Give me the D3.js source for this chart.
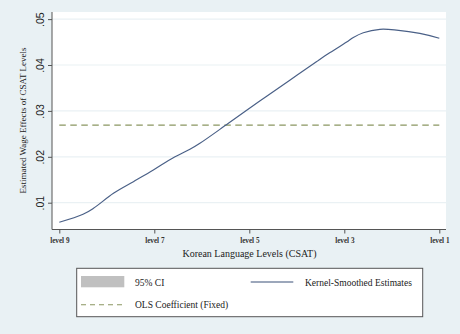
<!DOCTYPE html>
<html>
<head>
<meta charset="utf-8">
<script src="https://cdn.jsdelivr.net/npm/d3@7"></script>
<style>
  html, body { margin: 0; padding: 0; background: #e9f1f4; }
  svg { display: block; }
</style>
</head>
<body>
<svg id="chart" width="460" height="334"></svg>
<script>
// Kernel-smoothed wage effect by Korean language level (CSAT)
const levels = [9, 8.5, 8.28, 7.86, 7.44, 7.02, 6.6, 6.25, 6.04, 5.44, 4.78, 4.14, 3.58, 3.3, 2.95, 2.81, 2.6, 2.25, 1.9, 1.41, 1];
const kernelEstimates = [0.00573, 0.00747, 0.00878, 0.01205, 0.01458, 0.01712, 0.0198, 0.02163, 0.02294, 0.0273, 0.03215, 0.03675, 0.04075, 0.04270, 0.04500, 0.04600, 0.04704, 0.04778, 0.04762, 0.04691, 0.04582];
const olsCoefficient = 0.0269;
const xTickValues = [9, 7, 5, 3, 1];
const xTickLabels = ["level 9", "level 7", "level 5", "level 3", "level 1"];
const yTickValues = [0.01, 0.02, 0.03, 0.04, 0.05];
const yTickLabels = [".01", ".02", ".03", ".04", ".05"];
const legendItems = ["95% CI", "Kernel-Smoothed Estimates", "OLS Coefficient (Fixed)"];

const svg = d3.select("#chart");
const plot = { left: 52, right: 446, top: 12, bottom: 229.5 };

const x = d3.scaleLinear().domain([9, 1]).range([59.3, 439.3]);
const y = d3.scaleLinear().domain([0.00416, 0.05155]).range([plot.bottom, plot.top]);

// Plot region
svg.append("rect")
  .attr("x", plot.left).attr("y", plot.top)
  .attr("width", plot.right - plot.left).attr("height", plot.bottom - plot.top)
  .attr("fill", "#ffffff");

// Horizontal gridlines
svg.append("g").selectAll("line").data(yTickValues).join("line")
  .attr("x1", plot.left).attr("x2", plot.right)
  .attr("y1", d => y(d)).attr("y2", d => y(d))
  .attr("stroke", "#eaf1f4").attr("stroke-width", 1.2);

// Y axis
const yAxis = d3.axisLeft(y).tickValues(yTickValues)
  .tickFormat((d, i) => yTickLabels[i]).tickSize(4).tickPadding(4);
const gy = svg.append("g").attr("transform", `translate(${plot.left},0)`).call(yAxis);
gy.select(".domain").attr("d", `M0,${plot.top}V${plot.bottom}`).attr("stroke", "#555").attr("stroke-width", 1);
gy.selectAll(".tick line").attr("stroke", "#555");
gy.selectAll(".tick text")
  .attr("font-family", "Liberation Sans, Arial, sans-serif")
  .attr("font-size", 10.5).attr("fill", "#222")
  .attr("text-anchor", "middle")
  .attr("transform", "rotate(-90)")
  .attr("x", 0).attr("y", -8).attr("dy", 0);

// X axis
const xAxis = d3.axisBottom(x).tickValues(xTickValues)
  .tickFormat((d, i) => xTickLabels[i]).tickSize(4).tickPadding(4);
const gx = svg.append("g").attr("transform", `translate(0,${plot.bottom})`).call(xAxis);
gx.select(".domain").attr("d", `M${plot.left},0H${plot.right}`).attr("stroke", "#555").attr("stroke-width", 1);
gx.selectAll(".tick line").attr("stroke", "#555");
gx.selectAll(".tick text")
  .attr("font-family", "Liberation Serif, Times New Roman, serif")
  .attr("font-size", 7.2).attr("font-weight", "bold").attr("fill", "#333");

// OLS coefficient (fixed)
svg.append("line")
  .attr("x1", x(9)).attr("x2", x(1))
  .attr("y1", y(olsCoefficient)).attr("y2", y(olsCoefficient))
  .attr("stroke", "#8a9661").attr("stroke-width", 1.3)
  .attr("stroke-dasharray", "6.5,4.5");

// Kernel-smoothed estimates
const line = d3.line().x((d, i) => x(levels[i])).y(d => y(d)).curve(d3.curveCatmullRom.alpha(0.5));
svg.append("path")
  .attr("d", line(kernelEstimates))
  .attr("fill", "none").attr("stroke", "#4a6087").attr("stroke-width", 1.2);

// Axis titles
svg.append("text")
  .attr("x", 249.5).attr("y", 256.5).attr("text-anchor", "middle")
  .attr("font-family", "Liberation Serif, Times New Roman, serif")
  .attr("font-size", 10).attr("fill", "#222")
  .text("Korean Language Levels (CSAT)");

svg.append("text")
  .attr("transform", "translate(26,120.5) rotate(-90)")
  .attr("text-anchor", "middle")
  .attr("font-family", "Liberation Serif, Times New Roman, serif")
  .attr("font-size", 9).attr("fill", "#222")
  .text("Estimated Wage Effects of CSAT Levels");

// Legend
const lg = svg.append("g");
lg.append("rect").attr("x", 76.7).attr("y", 268.3).attr("width", 346).attr("height", 48.4)
  .attr("fill", "#ffffff").attr("stroke", "#555").attr("stroke-width", 1);
lg.append("rect").attr("x", 81).attr("y", 276).attr("width", 43.3).attr("height", 11.3).attr("fill", "#c0c0c0");
lg.append("line").attr("x1", 250.7).attr("x2", 293.3).attr("y1", 282).attr("y2", 282)
  .attr("stroke", "#7b8aa5").attr("stroke-width", 1.6);
lg.append("line").attr("x1", 81).attr("x2", 124.3).attr("y1", 304.7).attr("y2", 304.7)
  .attr("stroke", "#8a9661").attr("stroke-width", 1.1).attr("stroke-dasharray", "5,4");

const legendPos = [[135, 286.3], [305, 286.3], [135, 308.3]];
lg.selectAll("text.lab").data(legendItems).join("text")
  .attr("class", "lab")
  .attr("x", (d, i) => legendPos[i][0]).attr("y", (d, i) => legendPos[i][1])
  .attr("font-family", "Liberation Serif, Times New Roman, serif")
  .attr("font-size", 9.5).attr("fill", "#222")
  .text(d => d);
</script>
</body>
</html>
